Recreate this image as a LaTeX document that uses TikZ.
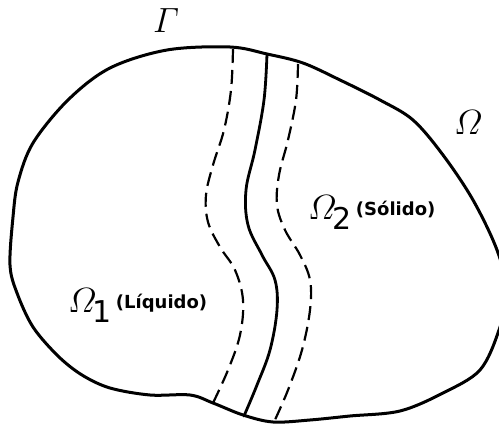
\RequirePackage{fix-cm}
\documentclass[tikz,border=0pt]{standalone}
\usepackage{amsmath}
\usepackage{fontspec}
\usepackage{tikz}
\usetikzlibrary{positioning}
\newfontfamily\tagfont{DejaVu Sans}
\newcommand{\subnum}[1]{\kern-4pt\raisebox{-0.27em}{\tagfont\fontsize{30}{30}\selectfont #1}}

\begin{document}
\begin{tikzpicture}[x=1pt,y=-1pt,line cap=round,line join=round]
\tikzstyle{rim}=[line width=3pt]
\tikzstyle{front}=[line width=2.8pt]
\tikzstyle{band}=[line width=2.2pt,dash pattern=on 14pt off 7pt,line cap=butt]
\tikzstyle{greek}=[inner sep=0pt,font=\fontsize{35}{40}\selectfont]
\tikzstyle{tag}=[inner sep=0pt,font=\tagfont\bfseries\fontsize{18}{20}\selectfont]
\useasboundingbox (0,0) rectangle (499,425);
% boundary of the domain
\draw[rim] plot[smooth cycle,tension=0.55] coordinates {
  (230,47) (267,54) (303,63) (340,80) (380,100) (413,120) (443,155)
  (473,200) (497,250) (507,292) (499,330) (480,370) (443,393) (400,411)
  (350,416) (310,420) (273,422) (243,415) (213,403) (190,395) (150,395)
  (110,388) (82,375) (58,356) (33,327) (17,293) (10,265) (13,217)
  (18,182) (33,143) (68,100) (110,68) (167,50)};
% interface and its band
\draw[front] plot[smooth,tension=0.6] coordinates {
  (267,54) (264,100) (255,150) (246,190) (248,225) (262,255) (275,280)
  (277,310) (270,350) (257,385) (244,416)};
\draw[band] plot[smooth,tension=0.6] coordinates {
  (233,49) (231,90) (224,130) (213,165) (206,195) (208,222) (220,247)
  (235,270) (243,300) (240,335) (228,370) (213,403)};
\draw[band] plot[smooth,tension=0.6] coordinates {
  (298,64) (296,100) (288,140) (279,175) (277,205) (285,230) (300,255)
  (310,280) (310,310) (302,350) (288,390) (274,422)};
% labels
\node[greek,anchor=base west] (gamma) at (153,33) {$\varGamma$};
\node[greek,anchor=base west] (omega) at (454,135) {$\varOmega$};
\node[greek,anchor=base west] (omega1) at (68,313) {$\varOmega$\subnum{1}};
\node[tag,right=4pt of omega1.base east,anchor=base west,yshift=4pt] (liquid) {(Líquido)};
\node[greek,anchor=base west] (omega2) at (308,220) {$\varOmega$\subnum{2}};
\node[tag,right=4pt of omega2.base east,anchor=base west,yshift=4pt] (solid) {(Sólido)};
\end{tikzpicture}
\end{document}
